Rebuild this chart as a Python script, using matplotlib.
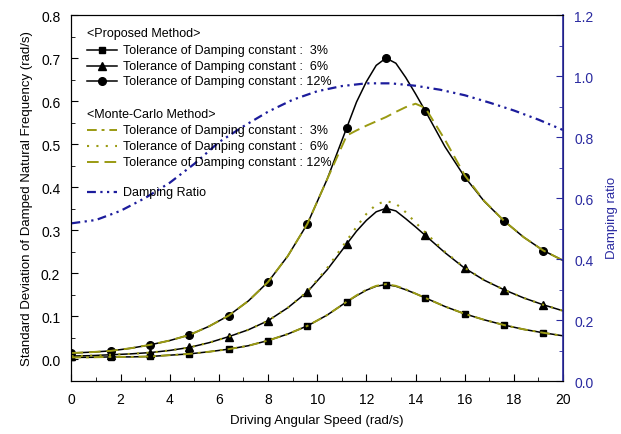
import numpy as np
import matplotlib
matplotlib.use("Agg")
import matplotlib.pyplot as plt
from matplotlib.lines import Line2D
from matplotlib.ticker import MultipleLocator, FormatStrFormatter

plt.rcParams["font.family"] = ["Liberation Sans", "DejaVu Sans"]

# Driving angular speed (rad/s)
speed = [0.0, 0.8, 1.6, 2.4, 3.2, 4.0, 4.8, 5.6, 6.4, 7.2, 8.0, 8.8, 9.6, 10.4,
         11.2, 11.6, 12.0, 12.4, 12.8, 13.2, 13.6, 14.0, 14.4, 15.2, 16.0, 16.8,
         17.6, 18.4, 19.2, 20.0]

# Proposed method: std. deviation of damped natural frequency (rad/s)
prop_3 = [0.005, 0.005, 0.006, 0.006, 0.007, 0.010, 0.013, 0.018, 0.024, 0.032,
          0.044, 0.059, 0.078, 0.103, 0.134, 0.148, 0.161, 0.170, 0.174, 0.170,
          0.162, 0.153, 0.143, 0.123, 0.106, 0.092, 0.080, 0.070, 0.062, 0.055]
prop_6 = [0.008, 0.009, 0.011, 0.013, 0.016, 0.021, 0.028, 0.039, 0.053, 0.069,
          0.090, 0.120, 0.157, 0.208, 0.268, 0.298, 0.323, 0.343, 0.351, 0.345,
          0.327, 0.308, 0.288, 0.248, 0.212, 0.184, 0.162, 0.143, 0.127, 0.113]
prop_12 = [0.015, 0.017, 0.020, 0.026, 0.034, 0.044, 0.057, 0.077, 0.102, 0.136,
           0.180, 0.240, 0.315, 0.418, 0.538, 0.598, 0.645, 0.683, 0.700, 0.688,
           0.655, 0.617, 0.577, 0.494, 0.424, 0.367, 0.322, 0.284, 0.253, 0.230]

# Monte-Carlo method
mc_3 = [0.005, 0.005, 0.006, 0.006, 0.007, 0.010, 0.013, 0.018, 0.024, 0.032,
        0.044, 0.059, 0.078, 0.103, 0.134, 0.149, 0.162, 0.171, 0.175, 0.171,
        0.163, 0.153, 0.143, 0.123, 0.106, 0.092, 0.080, 0.070, 0.062, 0.055]
mc_6 = [0.008, 0.009, 0.011, 0.013, 0.016, 0.021, 0.028, 0.039, 0.053, 0.069,
        0.090, 0.120, 0.158, 0.212, 0.276, 0.308, 0.338, 0.360, 0.368, 0.362,
        0.342, 0.318, 0.295, 0.250, 0.213, 0.184, 0.162, 0.143, 0.127, 0.113]
mc_12 = [0.015, 0.017, 0.020, 0.026, 0.034, 0.044, 0.057, 0.077, 0.102, 0.136,
         0.180, 0.240, 0.315, 0.418, 0.520, 0.532, 0.543, 0.553, 0.563, 0.575,
         0.586, 0.594, 0.584, 0.510, 0.428, 0.368, 0.322, 0.284, 0.253, 0.230]

# Damping ratio (right axis)
ratio_speed = [0, 1, 2, 3, 4, 5, 6, 7, 8, 9, 10, 11, 12, 13, 14, 15, 16, 17, 18, 19, 20]
ratio = [0.517, 0.528, 0.558, 0.600, 0.650, 0.712, 0.783, 0.835, 0.883, 0.922, 0.950,
         0.967, 0.976, 0.976, 0.968, 0.955, 0.937, 0.913, 0.887, 0.857, 0.823]

olive = "#9a9a12"
blue = "#1c1c9c"
axis_blue = "#2a2aa0"

x = np.array(speed)
marks = list(np.isclose(x / 1.6, np.round(x / 1.6)))

fig = plt.figure(figsize=(6.21, 4.35), dpi=100)
ax = fig.add_axes([0.115, 0.1218, 0.7916, 0.8414])

ax.plot(x, prop_3, color="black", lw=1.1, marker="s", ms=4.5, markevery=marks)
ax.plot(x, prop_6, color="black", lw=1.1, marker="^", ms=5.5, markevery=marks)
ax.plot(x, prop_12, color="black", lw=1.1, marker="o", ms=5.5, markevery=marks)

ax.plot(x, mc_3, color=olive, lw=1.4, ls=(0, (5, 2.5, 1.5, 2.5)))
ax.plot(x, mc_6, color=olive, lw=1.5, ls=(0, (1, 3.5)))
ax.plot(x, mc_12, color=olive, lw=1.4, ls=(0, (6, 3)))

ax.set_xlim(0, 20)
ax.set_ylim(-0.05, 0.8)
ax.xaxis.set_major_locator(MultipleLocator(2))
ax.xaxis.set_minor_locator(MultipleLocator(1))
ax.yaxis.set_minor_locator(MultipleLocator(0.05))
ax.set_yticks(np.arange(0, 0.81, 0.1))
ax.set_yticklabels([f"{v:.1f}" for v in np.arange(0, 0.81, 0.1)])
ax.tick_params(which="both", direction="in", top=False, right=False, labelsize=10)
ax.tick_params(which="major", length=5, pad=8)
ax.tick_params(which="minor", length=3)
ax.set_xlabel("Driving Angular Speed (rad/s)", fontsize=9.5, labelpad=6)
ax.set_ylabel("Standard Deviation of Damped Natural Frequency (rad/s)", fontsize=9.5, labelpad=6)

ax2 = ax.twinx()
ax2.plot(ratio_speed, ratio, color=blue, lw=1.6, ls=(0, (4, 2, 1, 2, 1, 2)))
ax2.set_ylim(0, 1.2)
ax2.yaxis.set_major_locator(MultipleLocator(0.2))
ax2.yaxis.set_minor_locator(MultipleLocator(0.1))
ax2.yaxis.set_major_formatter(FormatStrFormatter("%.1f"))
ax2.tick_params(which="both", direction="in", colors=axis_blue, labelsize=10)
ax2.tick_params(which="major", length=5, pad=8)
ax2.tick_params(which="minor", length=3)
ax2.spines["right"].set_color(axis_blue)
ax2.spines["right"].set_linewidth(1.2)
fig.text(606 / 621, 0.5, "Damping ratio", rotation=90, color=axis_blue,
         fontsize=9.5, ha="left", va="center")

# legend built by hand so the group headings sit flush left
lx0, lx1, tx = 0.031, 0.092, 0.105
rows = [
    (34.3, "<Proposed Method>", None),
    (50.7, "Tolerance of Damping constant :  3%", dict(color="black", lw=1.1, marker="s", ms=4.5)),
    (66.7, "Tolerance of Damping constant :  6%", dict(color="black", lw=1.1, marker="^", ms=5.5)),
    (82.3, "Tolerance of Damping constant : 12%", dict(color="black", lw=1.1, marker="o", ms=5.5)),
    (115.0, "<Monte-Carlo Method>", None),
    (130.7, "Tolerance of Damping constant :  3%", dict(color=olive, lw=1.4, ls=(0, (5, 2.5, 1.5, 2.5)))),
    (146.7, "Tolerance of Damping constant :  6%", dict(color=olive, lw=1.5, ls=(0, (1, 3.5)))),
    (163.3, "Tolerance of Damping constant : 12%", dict(color=olive, lw=1.4, ls=(0, (6, 3)))),
    (192.7, "Damping Ratio", dict(color=blue, lw=1.6, ls=(0, (4, 2, 1, 2, 1, 2)))),
]
for py, label, style in rows:
    ya = (382 - py) / 366.0
    if style is None:
        ax2.text(lx0, ya, label, transform=ax.transAxes, fontsize=9, va="center", ha="left")
        continue
    line_style = {k: v for k, v in style.items() if k not in ("marker", "ms")}
    ax2.add_line(Line2D([lx0, lx1], [ya, ya], transform=ax.transAxes, **line_style))
    if "marker" in style:
        ax2.add_line(Line2D([(lx0 + lx1) / 2], [ya], transform=ax.transAxes, color="black",
                            marker=style["marker"], ms=style["ms"], lw=0))
    ax2.text(tx, ya, label, transform=ax.transAxes, fontsize=9, va="center", ha="left")

fig.savefig("out.png", dpi=100)
